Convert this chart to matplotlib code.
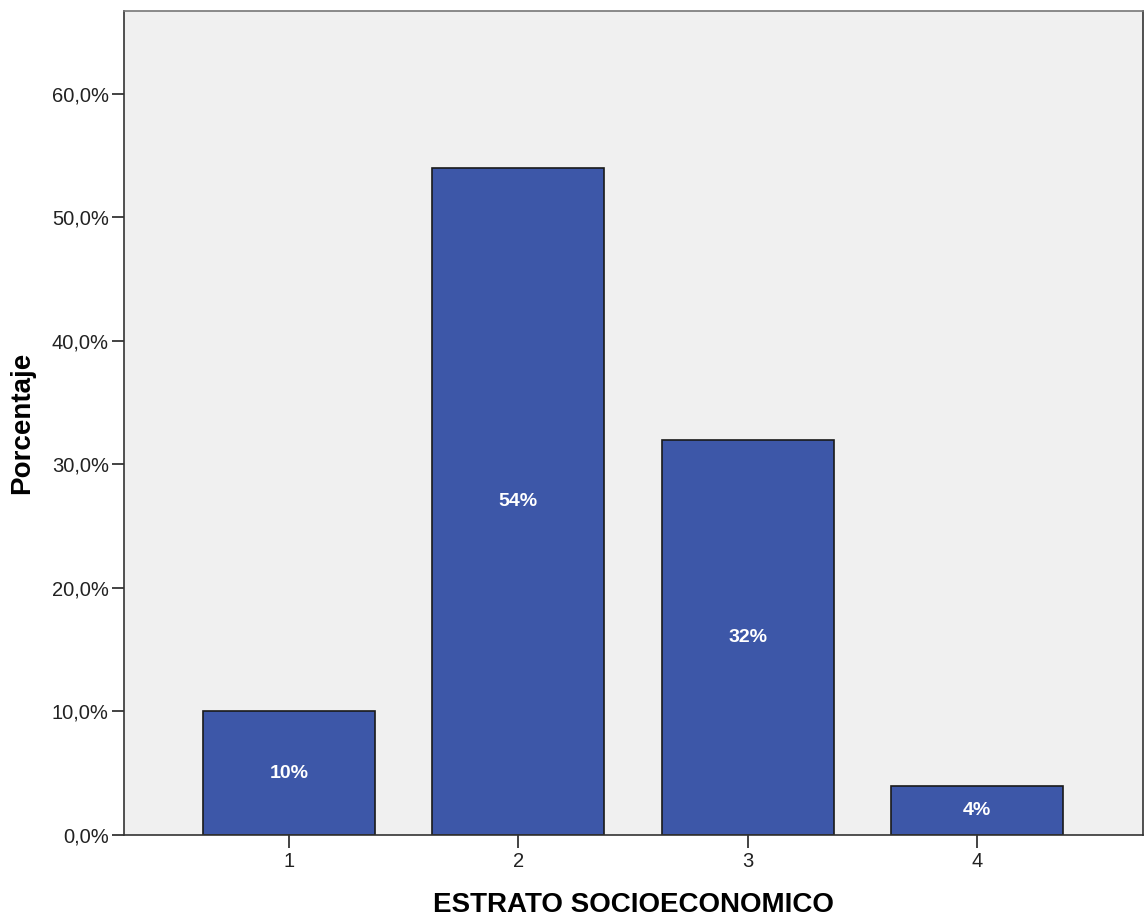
import matplotlib
matplotlib.use("Agg")
import matplotlib.pyplot as plt
from matplotlib.ticker import FuncFormatter

categorias = ["1", "2", "3", "4"]
porcentajes = [10, 54, 32, 4]
etiquetas = ["10%", "54%", "32%", "4%"]

plt.rcParams['font.family'] = ['Liberation Sans', 'DejaVu Sans']

fig = plt.figure(figsize=(11.44, 9.16), dpi=100)
ax = fig.add_axes([0.1084, 0.0884, 0.8906, 0.8996])
ax.set_facecolor('#f0f0f0')

x = list(range(1, len(categorias) + 1))
bars = ax.bar(x, porcentajes, width=0.75, color='#3d57a8', edgecolor='#1a1a1a', linewidth=1.2, zorder=2)
for b, lab in zip(bars, etiquetas):
    ax.text(b.get_x() + b.get_width() / 2, b.get_height() / 2, lab,
            ha='center', va='center', color='white', fontsize=14, fontweight='bold')

ax.set_xlim(0.28, 4.724)
ax.set_ylim(0, 66.7)
ax.set_xticks(x)
ax.set_xticklabels(categorias)
ax.set_yticks(range(0, 61, 10))
ax.yaxis.set_major_formatter(FuncFormatter(lambda v, p: f"{v:.1f}%".replace('.', ',')))
ax.tick_params(axis='both', labelsize=14.5, length=9, width=1.2, color='#222222', labelcolor='#222222')
ax.tick_params(axis='x', pad=3)
ax.tick_params(axis='y', pad=2)

for s in ax.spines.values():
    s.set_color('#333333')
    s.set_linewidth(1.2)
ax.spines['top'].set_color('#777777')

ax.set_xlabel("ESTRATO SOCIOECONOMICO", fontsize=20, fontweight='bold', labelpad=15.5)
ax.set_ylabel("Porcentaje", fontsize=20, fontweight='bold', labelpad=12)

fig.savefig("out.png", dpi=100)
